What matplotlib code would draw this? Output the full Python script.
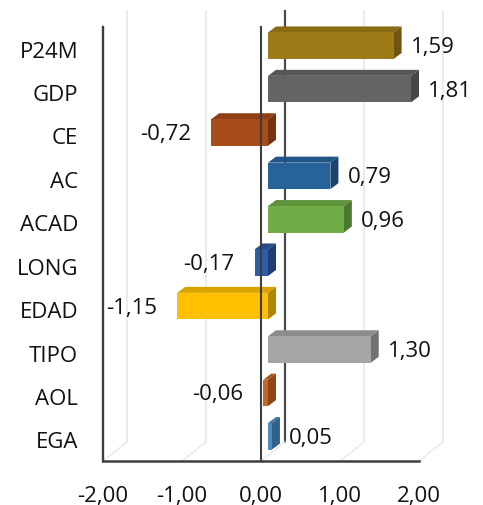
import matplotlib
matplotlib.use("Agg")
import matplotlib.pyplot as plt
from matplotlib.patches import Polygon

categories = ["P24M", "GDP", "CE", "AC", "ACAD", "LONG", "EDAD", "TIPO", "AOL", "EGA"]
values = [1.59, 1.81, -0.72, 0.79, 0.96, -0.17, -1.15, 1.30, -0.06, 0.05]
value_labels = ["1,59", "1,81", "-0,72", "0,79", "0,96", "-0,17", "-1,15", "1,30", "-0,06", "0,05"]
front_colors = ["#9F7B17", "#646464", "#A84C1A", "#27639A", "#70AD47", "#2F5CA8", "#FFC000", "#A5A5A5", "#C8661F", "#4A8CC4"]
top_colors = ["#8A6A12", "#565656", "#8F3F14", "#215585", "#5E933B", "#264C8C", "#D9A300", "#8C8C8C", "#AD5519", "#3E78AA"]
side_colors = ["#6F5510", "#464646", "#75330F", "#1A446B", "#4B7730", "#1E3D72", "#B08500", "#717171", "#8F4614", "#326288"]
x_ticks = [-2, -1, 0, 1, 2]
x_ticklabels = ["-2,00", "-1,00", "0,00", "1,00", "2,00"]

W, H = 483, 506
L, R, T, B = 103, 419, 28, 462
plt.rcParams["font.family"] = ["Open Sans", "DejaVu Sans"]
fig = plt.figure(figsize=(W / 100, H / 100), dpi=100)
ax = fig.add_axes([L / W, 1 - B / H, (R - L) / W, (B - T) / H])
ax.set_xlim(-2, 2)
ax.set_ylim(9.5, -0.5)
ax.patch.set_alpha(0)
for s in ax.spines.values():
    s.set_visible(False)

ux = (R - L) / 4       # pixels per value unit
uy = (B - T) / 10      # pixels per category
px = lambda p: p / ux
py = lambda p: p / uy

# 3D walls
bdx, bdy = px(24), py(19)
ytop_b = -0.5 - py(16)
for t in x_ticks:
    col = "#E8E8E8"
    ax.plot([t + bdx, t + bdx], [ytop_b, 9.5 - bdy], color="#4A4A4A" if t == 0 else col,
            lw=1.6 if t == 0 else 1.2, clip_on=False, zorder=1)
    ax.plot([t, t + bdx], [9.5, 9.5 - bdy], color=col, lw=1.0, clip_on=False, zorder=1)

# bars
x0 = px(7)
h = py(26.5)
ddx, ddy = px(8), py(6)
for i, v in enumerate(values):
    yc = i - py(3)
    y1, y2 = yc - h / 2, yc + h / 2
    a, b = x0 + min(v, 0), x0 + max(v, 0)
    ax.add_patch(Polygon([(a, y1), (b, y1), (b + ddx, y1 - ddy), (a + ddx, y1 - ddy)],
                         fc=top_colors[i], ec="none", zorder=3, clip_on=False))
    ax.add_patch(Polygon([(b, y1), (b + ddx, y1 - ddy), (b + ddx, y2 - ddy), (b, y2)],
                         fc=side_colors[i], ec="none", zorder=3, clip_on=False))
    ax.add_patch(Polygon([(a, y1), (b, y1), (b, y2), (a, y2)],
                         fc=front_colors[i], ec="none", zorder=4, clip_on=False))
    if v >= 0:
        anchor, off, ha = b + ddx, 9, "left"
    else:
        anchor, off, ha = a, -20, "right"
    ax.annotate(value_labels[i], (anchor, yc), xytext=(off, -1), textcoords="offset pixels",
                ha=ha, va="center", fontsize=16, color="#111111", zorder=6, annotation_clip=False)

# front axes
dark = "#3E3E3E"
ax.plot([-2, -2], [-0.5, 9.5], color=dark, lw=1.7, clip_on=False, zorder=5)
ax.plot([0, 0], [-0.5, 9.5], color=dark, lw=1.5, clip_on=False, zorder=5)
ax.plot([-2, 2], [9.5, 9.5], color=dark, lw=1.8, clip_on=False, zorder=5)

ax.set_xticks(x_ticks)
ax.set_xticklabels(x_ticklabels, fontsize=16, color="#111111")
ax.set_yticks(range(len(categories)))
ax.set_yticklabels(categories, fontsize=16, color="#111111")
ax.tick_params(axis="x", length=0, pad=17)
ax.tick_params(axis="y", length=0, pad=18)

fig.savefig("out.png", dpi=100, facecolor="white")
